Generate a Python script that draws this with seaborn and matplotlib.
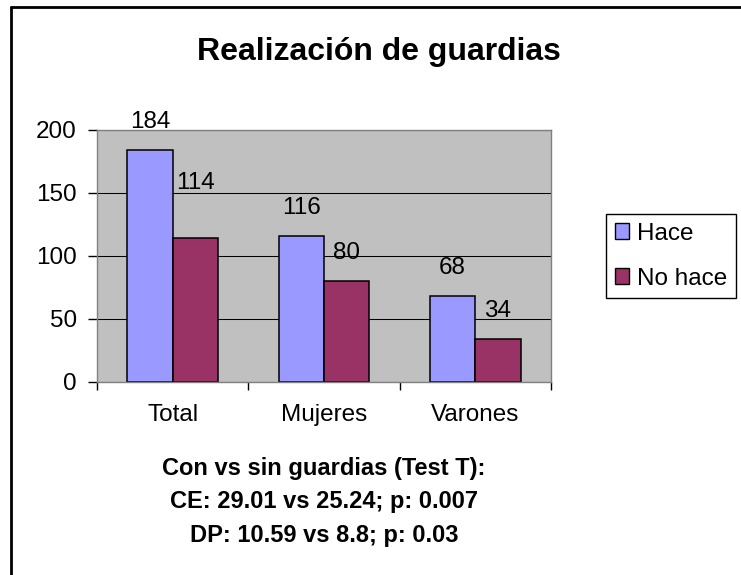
import pandas as pd
import matplotlib.pyplot as plt
import seaborn as sns
from matplotlib.lines import Line2D

# Data
categories = ["Total", "Mujeres", "Varones"]
hace = [184, 116, 68]
no_hace = [114, 80, 34]
series = ["Hace", "No hace"]
colors = ["#9999FF", "#993366"]
yticks = [0, 50, 100, 150, 200]
title = "Realización de guardias"
notes = ["Con vs sin guardias (Test T):",
         "CE: 29.01 vs 25.24; p: 0.007",
         "DP: 10.59 vs 8.8; p: 0.03"]

df = pd.DataFrame({
    "Grupo": categories * 2,
    "Guardias": [series[0]] * len(hace) + [series[1]] * len(no_hace),
    "Valor": hace + no_hace,
})

sns.set_style("white")
plt.rcParams["font.family"] = ["Liberation Sans", "DejaVu Sans"]
plt.rcParams["text.color"] = "black"
plt.rcParams["xtick.color"] = "black"
plt.rcParams["ytick.color"] = "black"

W, H = 741, 575
fig = plt.figure(figsize=(W / 100, H / 100), dpi=100)
ax = fig.add_axes([97 / W, 1 - 382 / H, 454 / W, 252.5 / H])

sns.barplot(data=df, x="Grupo", y="Valor", hue="Guardias", palette=colors,
            width=0.6, gap=0, edgecolor="black", linewidth=1.1,
            saturation=1, errorbar=None, ax=ax)

# value labels
anns = []
for cont in ax.containers:
    anns.append(ax.bar_label(cont, padding=12, fontsize=17.5, color="black"))
# "114" was moved up by hand in the original
anns[1][0].set_position((0, 32))

ax.set_facecolor("#C0C0C0")
ax.set_xlim(-0.5, 2.5)
ax.set_ylim(0, 200)
ax.set_yticks(yticks)
ax.set_xlabel("")
ax.set_ylabel("")
ax.set_xticks([-0.5, 0.5, 1.5, 2.5], minor=True)
ax.tick_params(axis="x", which="major", length=0, pad=15.5, labelsize=17.5, labelcolor="black")
ax.tick_params(axis="x", which="minor", bottom=True, length=5.8, width=1, color="black")
ax.tick_params(axis="y", left=True, length=6.5, width=1, color="black", pad=8,
               labelsize=17.5, labelcolor="black")

ax.set_axisbelow(True)
ax.yaxis.grid(True, color="black", linewidth=0.75)
ax.xaxis.grid(False)
for s in ax.spines.values():
    s.set_visible(True)
    s.set_color("#808080")
    s.set_linewidth(1)

# legend outside the plot area
sns.move_legend(ax, "upper left",
                bbox_to_anchor=((606 - 97) / 454, (382 - 214) / 252.5),
                borderaxespad=0, frameon=True, fancybox=False, framealpha=1,
                title=None, fontsize=17.5, handlelength=0.6, handleheight=0.6,
                handletextpad=0.33, borderpad=0.35, labelspacing=0.95,
                edgecolor="black")
leg = ax.get_legend()
leg.get_frame().set_linewidth(1)
for h in leg.legend_handles:
    h.set_edgecolor("black")
    h.set_linewidth(1)
for t in leg.get_texts():
    t.set_color("black")

# chart border (only top and left edges show in the crop)
bx, by = 10.7 / W, 1 - 7.3 / H
fig.add_artist(Line2D([bx, bx], [0, by], transform=fig.transFigure, color="black", linewidth=2))
fig.add_artist(Line2D([bx, 1], [by, by], transform=fig.transFigure, color="black", linewidth=2))

fig.text(379 / W, 1 - 60 / H, title, ha="center", va="baseline",
         fontsize=23, fontweight="bold", color="black")

for txt, base in zip(notes, [475, 508.3, 541.7]):
    fig.text(324 / W, 1 - base / H, txt, ha="center", va="baseline",
             fontsize=17, fontweight="bold", color="black")

fig.savefig("out.png", dpi=100)
